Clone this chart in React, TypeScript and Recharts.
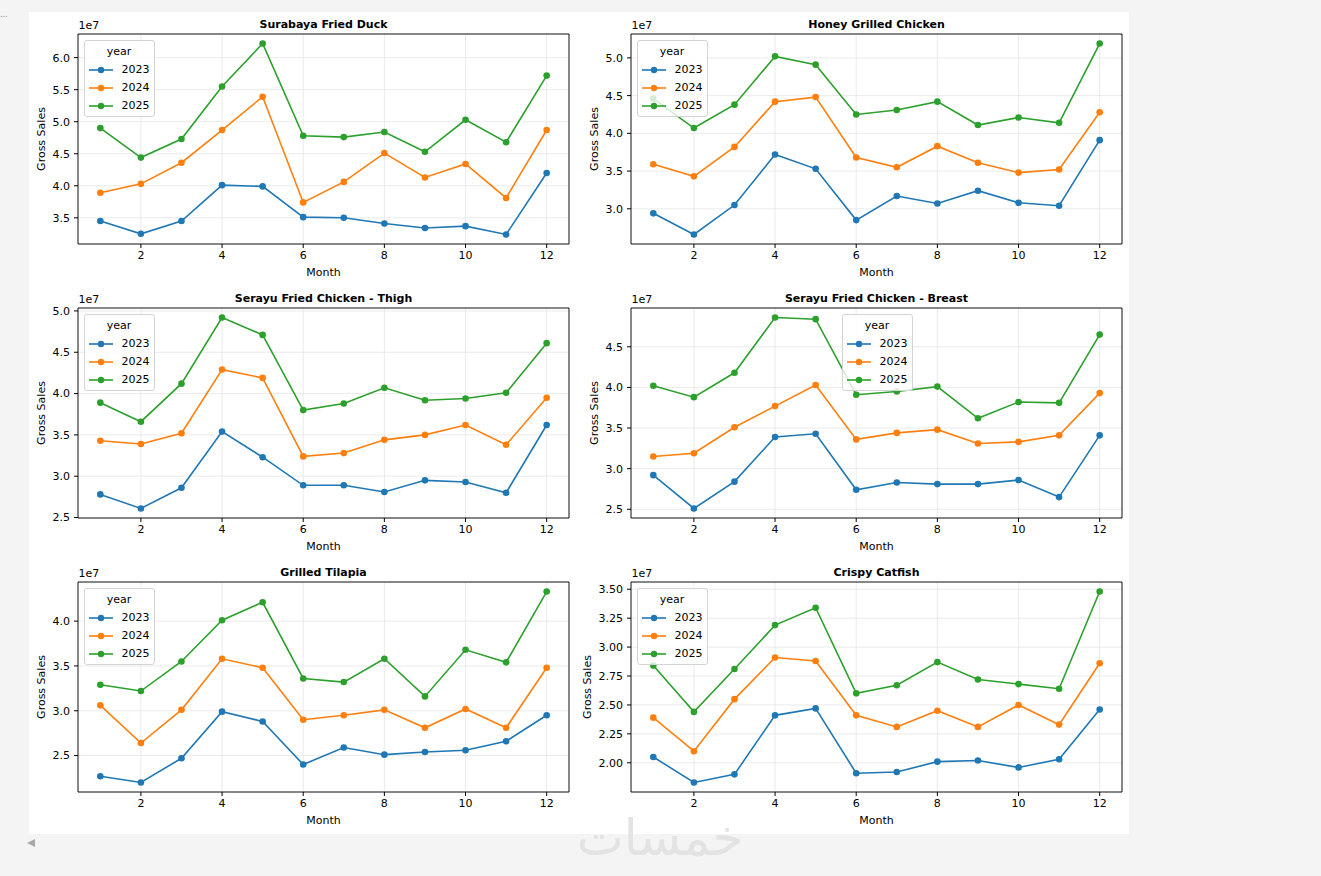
import React from 'react'
import { LineChart, Line, XAxis, YAxis, CartesianGrid, ReferenceArea } from 'recharts'

const MONTHS = [1, 2, 3, 4, 5, 6, 7, 8, 9, 10, 11, 12]
const MONTH_TICKS = [2, 4, 6, 8, 10, 12]
const YEARS = ['2023', '2024', '2025']
const COLORS = ['#1f77b4', '#ff7f0e', '#2ca02c']

// gross sales per month, in units of 1e7
const DUCK_2023 = [3.45, 3.25, 3.45, 4.01, 3.99, 3.51, 3.5, 3.41, 3.34, 3.37, 3.24, 4.2]
const DUCK_2024 = [3.89, 4.03, 4.36, 4.87, 5.39, 3.74, 4.06, 4.51, 4.13, 4.34, 3.81, 4.87]
const DUCK_2025 = [4.9, 4.44, 4.73, 5.55, 6.22, 4.78, 4.76, 4.84, 4.53, 5.03, 4.68, 5.72]

const HONEY_2023 = [2.94, 2.66, 3.05, 3.72, 3.53, 2.85, 3.17, 3.07, 3.24, 3.08, 3.04, 3.91]
const HONEY_2024 = [3.59, 3.43, 3.82, 4.42, 4.48, 3.68, 3.55, 3.83, 3.61, 3.48, 3.52, 4.28]
const HONEY_2025 = [4.46, 4.07, 4.38, 5.02, 4.91, 4.25, 4.31, 4.42, 4.11, 4.21, 4.14, 5.19]

const THIGH_2023 = [2.78, 2.61, 2.86, 3.54, 3.23, 2.89, 2.89, 2.81, 2.95, 2.93, 2.8, 3.62]
const THIGH_2024 = [3.43, 3.39, 3.52, 4.29, 4.19, 3.24, 3.28, 3.44, 3.5, 3.62, 3.38, 3.95]
const THIGH_2025 = [3.89, 3.66, 4.12, 4.92, 4.71, 3.8, 3.88, 4.07, 3.92, 3.94, 4.01, 4.61]

const BREAST_2023 = [2.92, 2.51, 2.84, 3.39, 3.43, 2.74, 2.83, 2.81, 2.81, 2.86, 2.65, 3.41]
const BREAST_2024 = [3.15, 3.19, 3.51, 3.77, 4.03, 3.36, 3.44, 3.48, 3.31, 3.33, 3.41, 3.93]
const BREAST_2025 = [4.02, 3.88, 4.18, 4.86, 4.84, 3.91, 3.95, 4.01, 3.62, 3.82, 3.81, 4.65]

const TILAPIA_2023 = [2.27, 2.2, 2.47, 2.99, 2.88, 2.4, 2.59, 2.51, 2.54, 2.56, 2.66, 2.95]
const TILAPIA_2024 = [3.06, 2.64, 3.01, 3.58, 3.48, 2.9, 2.95, 3.01, 2.81, 3.02, 2.81, 3.48]
const TILAPIA_2025 = [3.29, 3.22, 3.55, 4.01, 4.21, 3.36, 3.32, 3.58, 3.16, 3.68, 3.54, 4.33]

const CATFISH_2023 = [2.05, 1.83, 1.9, 2.41, 2.47, 1.91, 1.92, 2.01, 2.02, 1.96, 2.03, 2.46]
const CATFISH_2024 = [2.39, 2.1, 2.55, 2.91, 2.88, 2.41, 2.31, 2.45, 2.31, 2.5, 2.33, 2.86]
const CATFISH_2025 = [2.84, 2.44, 2.81, 3.19, 3.34, 2.6, 2.67, 2.87, 2.72, 2.68, 2.64, 3.48]

const DUCK_TICKS = [3.5, 4, 4.5, 5, 5.5, 6]
const HONEY_TICKS = [3, 3.5, 4, 4.5, 5]
const THIGH_TICKS = [2.5, 3, 3.5, 4, 4.5, 5]
const BREAST_TICKS = [2.5, 3, 3.5, 4, 4.5]
const TILAPIA_TICKS = [2.5, 3, 3.5, 4]
const CATFISH_TICKS = [2, 2.25, 2.5, 2.75, 3, 3.25, 3.5]

const PANELS = [
  { title: 'Surabaya Fried Duck', series: [DUCK_2023, DUCK_2024, DUCK_2025], ticks: DUCK_TICKS, digits: 1, legendCenter: false },
  { title: 'Honey Grilled Chicken', series: [HONEY_2023, HONEY_2024, HONEY_2025], ticks: HONEY_TICKS, digits: 1, legendCenter: false },
  { title: 'Serayu Fried Chicken - Thigh', series: [THIGH_2023, THIGH_2024, THIGH_2025], ticks: THIGH_TICKS, digits: 1, legendCenter: false },
  { title: 'Serayu Fried Chicken - Breast', series: [BREAST_2023, BREAST_2024, BREAST_2025], ticks: BREAST_TICKS, digits: 1, legendCenter: true },
  { title: 'Grilled Tilapia', series: [TILAPIA_2023, TILAPIA_2024, TILAPIA_2025], ticks: TILAPIA_TICKS, digits: 1, legendCenter: false },
  { title: 'Crispy Catfish', series: [CATFISH_2023, CATFISH_2024, CATFISH_2025], ticks: CATFISH_TICKS, digits: 2, legendCenter: false },
]

const COL_LEFT = [78, 631]
const ROW_TOP = [34, 308, 582]
const W = 491
const H = 210
const ML = 60 // y axis band
const MT = 30
const MR = 10
const MB = 50
const X_DOMAIN: [number, number] = [0.45, 12.55]
const GRID = '#e6e6e6'
const TEXT = '#000'

function LegendBox({ center }: { center: boolean }) {
  const left = center ? ML + W / 2 - 35 : ML + 5.5
  return (
    <div
      style={{
        position: 'absolute',
        left,
        top: MT + 6,
        width: 71,
        height: 77,
        boxSizing: 'border-box',
        background: 'rgba(255,255,255,0.8)',
        border: '1px solid #d4d4d4',
        borderRadius: 3,
        fontSize: 11,
        color: TEXT,
      }}
    >
      <div style={{ position: 'absolute', top: 3.5, width: '100%', textAlign: 'center', lineHeight: '14px' }}>year</div>
      {YEARS.map((y, i) => (
        <div
          key={y}
          style={{ position: 'absolute', left: 3, top: 22 + i * 18.2, height: 14, display: 'flex', alignItems: 'center' }}
        >
          <svg width={26} height={14}>
            <line x1={1} x2={25} y1={7} y2={7} stroke={COLORS[i]} strokeWidth={1.6} />
            <circle cx={13} cy={7} r={3.2} fill={COLORS[i]} />
          </svg>
          <span style={{ marginLeft: 8, lineHeight: '14px' }}>{y}</span>
        </div>
      ))}
    </div>
  )
}

function Panel({ panel, left, top }: { panel: (typeof PANELS)[number]; left: number; top: number }) {
  const rows = MONTHS.map((m, i) => ({
    month: m,
    y2023: panel.series[0][i],
    y2024: panel.series[1][i],
    y2025: panel.series[2][i],
  }))
  // matplotlib style autoscale: 5% margin on each side
  const all = panel.series.flat()
  const lo = Math.min(...all)
  const hi = Math.max(...all)
  const pad = (hi - lo) * 0.05
  const yDomain: [number, number] = [lo - pad, hi + pad]
  // wider tick labels push the y label further left
  const labelShift = panel.digits === 2 ? 7 : 0

  return (
    <div style={{ position: 'absolute', left: left - ML, top: top - MT, width: ML + W + MR, height: MT + H + MB }}>
      <LineChart width={ML + W + MR} height={MT + H + MB} data={rows} margin={{ top: MT, right: MR, left: 0, bottom: 0 }}>
        <CartesianGrid stroke={GRID} strokeWidth={0.8} />
        <XAxis
          dataKey="month"
          type="number"
          domain={X_DOMAIN}
          ticks={MONTH_TICKS}
          allowDataOverflow
          height={MB}
          tickSize={4}
          tickMargin={3}
          axisLine={false}
          tickLine={{ stroke: TEXT }}
          tick={{ fill: TEXT, fontSize: 11 }}
          label={{
            content: ({ viewBox }: any) => (
              <text
                x={viewBox.x + viewBox.width / 2}
                y={viewBox.y + 28.5}
                textAnchor="middle"
                dominantBaseline="central"
                fontSize={11}
                fill={TEXT}
              >
                Month
              </text>
            ),
          }}
        />
        <YAxis
          type="number"
          domain={yDomain}
          ticks={panel.ticks}
          allowDataOverflow
          width={ML}
          tickSize={4}
          tickMargin={4}
          axisLine={false}
          tickLine={{ stroke: TEXT }}
          tick={{ fill: TEXT, fontSize: 11 }}
          tickFormatter={(v: number) => v.toFixed(panel.digits)}
          label={{
            content: ({ viewBox }: any) => {
              const cx = viewBox.x + 23 - labelShift
              const cy = viewBox.y + viewBox.height / 2
              return (
                <text
                  x={cx}
                  y={cy}
                  transform={`rotate(-90 ${cx} ${cy})`}
                  textAnchor="middle"
                  dominantBaseline="central"
                  fontSize={11}
                  fill={TEXT}
                >
                  Gross Sales
                </text>
              )
            },
          }}
        />
        <ReferenceArea
          x1={X_DOMAIN[0]}
          x2={X_DOMAIN[1]}
          y1={yDomain[0]}
          y2={yDomain[1]}
          fill="none"
          stroke={TEXT}
          strokeWidth={0.9}
          ifOverflow="visible"
        />
        {YEARS.map((y, i) => (
          <Line
            key={y}
            dataKey={`y${y}`}
            stroke={COLORS[i]}
            strokeWidth={1.6}
            dot={{ r: 3.3, fill: COLORS[i], stroke: COLORS[i], strokeWidth: 0 }}
            activeDot={false}
            isAnimationActive={false}
          />
        ))}
      </LineChart>
      <div
        style={{
          position: 'absolute',
          left: ML,
          width: W,
          top: MT - 16.5,
          lineHeight: '14px',
          textAlign: 'center',
          fontWeight: 'bold',
          fontSize: 11,
          color: TEXT,
        }}
      >
        {panel.title}
      </div>
      <div style={{ position: 'absolute', left: ML + 0.5, top: MT - 14.6, lineHeight: '14px', fontSize: 11, color: TEXT }}>1e7</div>
      <LegendBox center={panel.legendCenter} />
    </div>
  )
}

export default function App() {
  return (
    <div
      style={{
        position: 'absolute',
        left: 0,
        top: 0,
        width: 1321,
        height: 876,
        overflow: 'hidden',
        background: '#f4f4f4',
        fontFamily: '"DejaVu Sans", sans-serif',
      }}
    >
      <div style={{ position: 'absolute', left: 0, top: 10, fontSize: 8, color: '#8a8a8a' }}>...</div>
      <div style={{ position: 'absolute', left: 29, top: 12, width: 1100, height: 822, background: '#fff' }} />
      {PANELS.map((p, i) => (
        <Panel key={p.title} panel={p} left={COL_LEFT[i % 2]} top={ROW_TOP[Math.floor(i / 2)]} />
      ))}
      <div
        style={{
          position: 'absolute',
          left: 27,
          top: 839,
          width: 0,
          height: 0,
          borderTop: '4.5px solid transparent',
          borderBottom: '4.5px solid transparent',
          borderRight: '8px solid #a8a8a8',
        }}
      />
      <div
        style={{
          position: 'absolute',
          left: 572,
          top: 808,
          width: 176,
          textAlign: 'center',
          fontSize: 50,
          lineHeight: '60px',
          color: '#e3e3e3',
          direction: 'rtl',
        }}
      >
        خمسات
      </div>
    </div>
  )
}
